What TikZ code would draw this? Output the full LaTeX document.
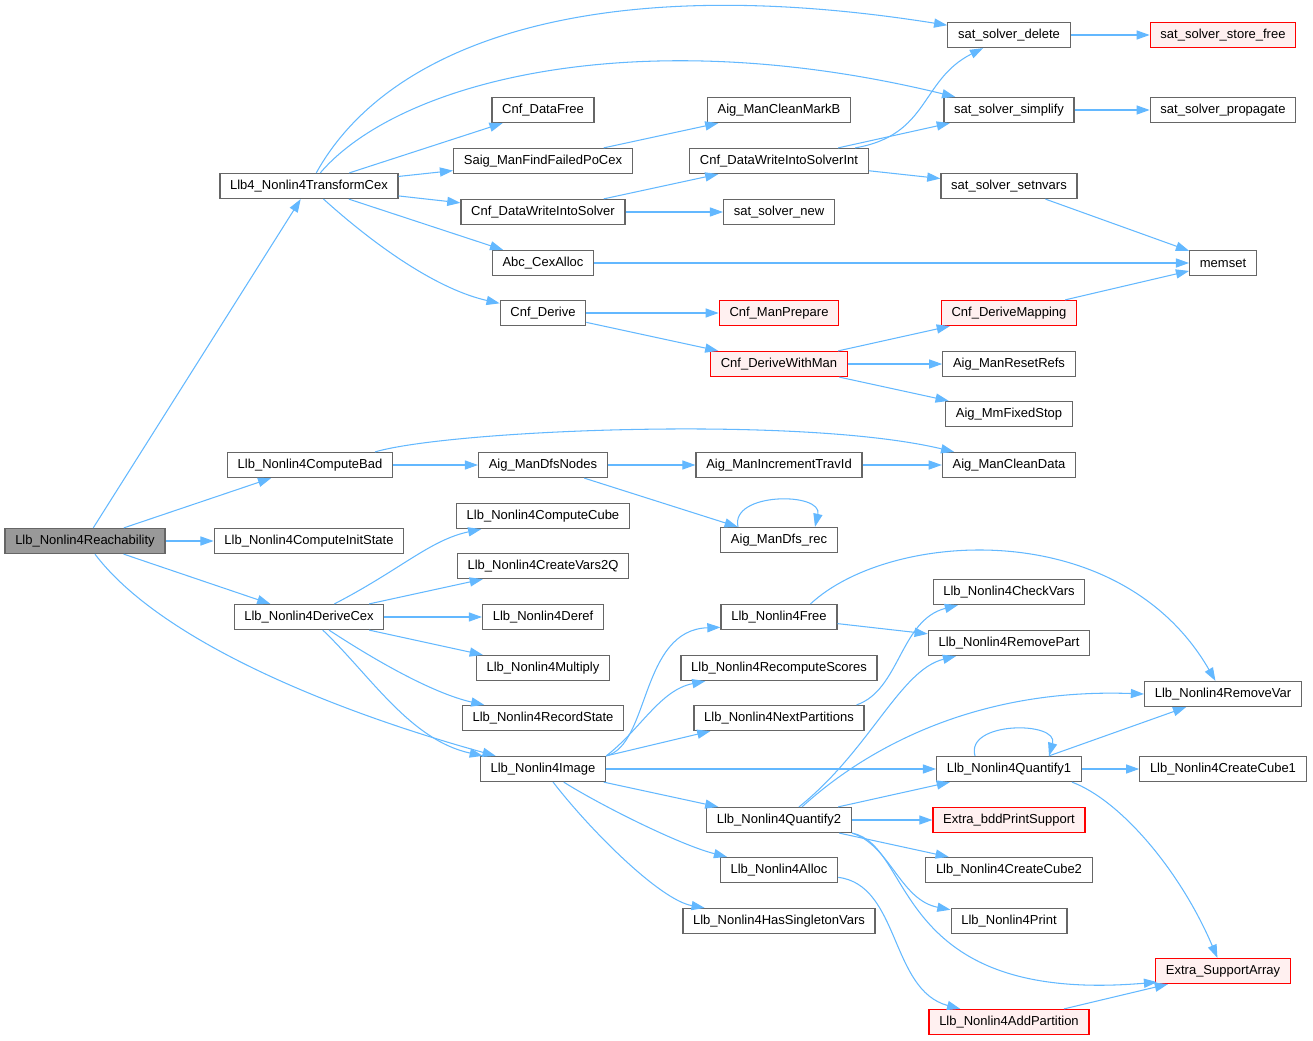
\documentclass[tikz,border=0pt]{standalone}
\usepackage{fontspec}
\setmainfont{Liberation Sans}
\usepackage{xcolor}
\usepackage{tikz}
\usetikzlibrary{arrows.meta,calc}
\definecolor{DoxEdge}  {HTML}{63B8FF}
\definecolor{DoxLine}  {HTML}{666666}
\definecolor{DoxRoot}  {HTML}{999999}
\definecolor{DoxRed}   {HTML}{FF0000}
\definecolor{DoxRedLt} {HTML}{FFF0F0}

\begin{document}
\begin{tikzpicture}[x=0.02cm,y=-0.02cm,
    fn/.style={draw=DoxLine,fill=white,line width=0.7pt,
               minimum height=0.5cm,inner xsep=5.8pt,inner ysep=1pt,
               font=\fontsize{7.4}{9}\selectfont},
    fnred/.style={fn,draw=DoxRed,fill=DoxRedLt},
    fnroot/.style={fn,fill=DoxRoot},
    ar/.style={-{Triangle[length=7.5pt,width=5.2pt]},line width=0.6pt,DoxEdge}
  ]
    \useasboundingbox (0,0) rectangle (1313,1041);
    % column 0 / 1
    \node[fnroot] (rch)   at (85,541)  {Llb\_Nonlin4Reachability};
    \node[fn]     (tcx)   at (309,186) {Llb4\_Nonlin4TransformCex};
    \node[fn]     (cbad)  at (310,465) {Llb\_Nonlin4ComputeBad};
    \node[fn]     (cinit) at (309,541) {Llb\_Nonlin4ComputeInitState};
    \node[fn]     (dcex)  at (309,617) {Llb\_Nonlin4DeriveCex};
    % column 2
    \node[fn] (dfree)  at (543,110) {Cnf\_DataFree};
    \node[fn] (sfail)  at (543,161) {Saig\_ManFindFailedPoCex};
    \node[fn] (dwis)   at (543,212) {Cnf\_DataWriteIntoSolver};
    \node[fn] (cexa)   at (543,263) {Abc\_CexAlloc};
    \node[fn] (cder)   at (543,313) {Cnf\_Derive};
    \node[fn] (dfsn)   at (543,465) {Aig\_ManDfsNodes};
    \node[fn] (ccube)  at (543,516) {Llb\_Nonlin4ComputeCube};
    \node[fn] (cvars)  at (543,566) {Llb\_Nonlin4CreateVars2Q};
    \node[fn] (deref)  at (543,617) {Llb\_Nonlin4Deref};
    \node[fn] (mult)   at (543,668) {Llb\_Nonlin4Multiply};
    \node[fn] (rstate) at (543,718) {Llb\_Nonlin4RecordState};
    \node[fn] (img)    at (543,769) {Llb\_Nonlin4Image};
    % column 3
    \node[fn]    (cmarkb) at (779,110) {Aig\_ManCleanMarkB};
    \node[fn]    (dwisi)  at (779,161) {Cnf\_DataWriteIntoSolverInt};
    \node[fn]    (snew)   at (779,212) {sat\_solver\_new};
    \node[fnred] (mprep)  at (779,313) {Cnf\_ManPrepare};
    \node[fnred] (dwman)  at (779,364) {Cnf\_DeriveWithMan};
    \node[fn]    (travid) at (779,465) {Aig\_ManIncrementTravId};
    \node[fn]    (dfsrec) at (779,540) {Aig\_ManDfs\_rec};
    \node[fn]    (free)   at (779,617) {Llb\_Nonlin4Free};
    \node[fn]    (rscore) at (779,668) {Llb\_Nonlin4RecomputeScores};
    \node[fn]    (npart)  at (779,718) {Llb\_Nonlin4NextPartitions};
    \node[fn]    (quant2) at (779,820) {Llb\_Nonlin4Quantify2};
    \node[fn]    (alloc)  at (779,870) {Llb\_Nonlin4Alloc};
    \node[fn]    (hsv)    at (779,921) {Llb\_Nonlin4HasSingletonVars};
    % column 4
    \node[fn]    (sdel)   at (1009,35)   {sat\_solver\_delete};
    \node[fn]    (ssimp)  at (1009,110)  {sat\_solver\_simplify};
    \node[fn]    (snv)    at (1009,186)  {sat\_solver\_setnvars};
    \node[fnred] (dmap)   at (1009,313)  {Cnf\_DeriveMapping};
    \node[fn]    (rrefs)  at (1009,364)  {Aig\_ManResetRefs};
    \node[fn]    (mmfs)   at (1009,414)  {Aig\_MmFixedStop};
    \node[fn]    (cdata)  at (1009,465)  {Aig\_ManCleanData};
    \node[fn]    (chkv)   at (1009,592)  {Llb\_Nonlin4CheckVars};
    \node[fn]    (rpart)  at (1009,643)  {Llb\_Nonlin4RemovePart};
    \node[fn]    (quant1) at (1009,769)  {Llb\_Nonlin4Quantify1};
    \node[fnred] (bddps)  at (1009,820)  {Extra\_bddPrintSupport};
    \node[fn]    (cube2)  at (1009,870)  {Llb\_Nonlin4CreateCube2};
    \node[fn]    (print)  at (1009,921)  {Llb\_Nonlin4Print};
    \node[fnred] (addp)   at (1009,1022) {Llb\_Nonlin4AddPartition};
    % column 5
    \node[fnred] (sfree)  at (1223,35)  {sat\_solver\_store\_free};
    \node[fn]    (sprop)  at (1223,110) {sat\_solver\_propagate};
    \node[fn]    (mset)   at (1223,263) {memset};
    \node[fn]    (rvar)   at (1223,694) {Llb\_Nonlin4RemoveVar};
    \node[fn]    (cube1)  at (1223,769) {Llb\_Nonlin4CreateCube1};
    \node[fnred] (supa)   at (1223,971) {Extra\_SupportArray};

    % straight calls
    \foreach \a/\b in {rch/tcx,rch/cbad,rch/cinit,rch/dcex,
        tcx/dfree,tcx/sfail,tcx/dwis,tcx/cexa,sfail/cmarkb,
        dwis/dwisi,dwis/snew,dwisi/ssimp,dwisi/snv,sdel/sfree,
        ssimp/sprop,snv/mset,cexa/mset,cder/mprep,cder/dwman,
        dwman/dmap,dwman/rrefs,dwman/mmfs,dmap/mset,
        cbad/dfsn,dfsn/travid,travid/cdata,dfsn/dfsrec,
        dcex/cvars,dcex/deref,dcex/mult,img/quant1,img/quant2,
        free/rpart,quant2/quant1,quant2/bddps,quant2/cube2,
        quant1/cube1,addp/supa}
      \draw[ar] (\a) -- (\b);

    % curved calls
    \draw[ar] (rch) .. controls (160,640) and (330,710) .. (img);
    \draw[ar] (tcx) .. controls (390,40) and (600,-30) .. (sdel);
    \draw[ar] (tcx) .. controls (400,80) and (640,20) .. (ssimp);
    \draw[ar] (tcx) .. controls (380,250) and (440,290) .. (cder);
    \draw[ar] (dwisi) .. controls (930,135) and (920,80) .. (sdel);
    \draw[ar] ($(cbad.north east)+(-18,0)$) .. controls (450,430) and (800,415) .. (cdata);
    \draw[ar] ($(dfsrec.north)+(-41,0)$) .. controls +(-8,-35) and +(8,-35) .. ($(dfsrec.north)+(36,0)$);
    \draw[ar] (dcex) .. controls (400,570) and (430,540) .. (ccube);
    \draw[ar] (dcex) .. controls (390,670) and (440,695) .. (rstate);
    \draw[ar] (dcex) .. controls (370,675) and (410,740) .. (img);
    \draw[ar] (img.north east) .. controls (650,745) and (640,630) .. (free.190);
    \draw[ar] (img.north east) .. controls (640,730) and (660,690) .. ($(rscore.south west)+(25,0)$);
    \draw[ar] (img.north east) -- ($(npart.south west)+(17,0)$);
    \draw[ar] (img) .. controls (600,805) and (680,845) .. (alloc);
    \draw[ar] (img) .. controls (590,830) and (660,900) .. (hsv);
    \draw[ar] ($(free.north east)+(-27,0)$) .. controls (890,530) and (1120,515) .. (rvar);
    \draw[ar] ($(npart.north east)+(-8,0)$) .. controls (900,690) and (900,620) .. (chkv);
    \draw[ar] ($(quant2.north)+(20,0)$) .. controls (870,750) and (900,670) .. (rpart);
    \draw[ar] ($(quant2.north)+(23,0)$) .. controls (870,745) and (980,688) .. (rvar.west);
    \draw[ar] (quant2.south east) .. controls (890,845) and (900,900) .. (print);
    \draw[ar] (quant2.south east) .. controls (915,845) and (890,1005) .. ($(supa.south west)+(2,-2)$);
    \draw[ar] ($(quant1.north)+(-34,0)$) .. controls +(-10,-35) and +(10,-35) .. ($(quant1.north)+(40,0)$);
    \draw[ar] ($(quant1.north)+(40,0)$) -- (rvar);
    \draw[ar] ($(quant1.south east)+(-10,0)$) .. controls (1120,800) and (1180,870) .. (supa);
    \draw[ar] (alloc) .. controls (900,885) and (890,990) .. (addp);
\end{tikzpicture}
\end{document}
